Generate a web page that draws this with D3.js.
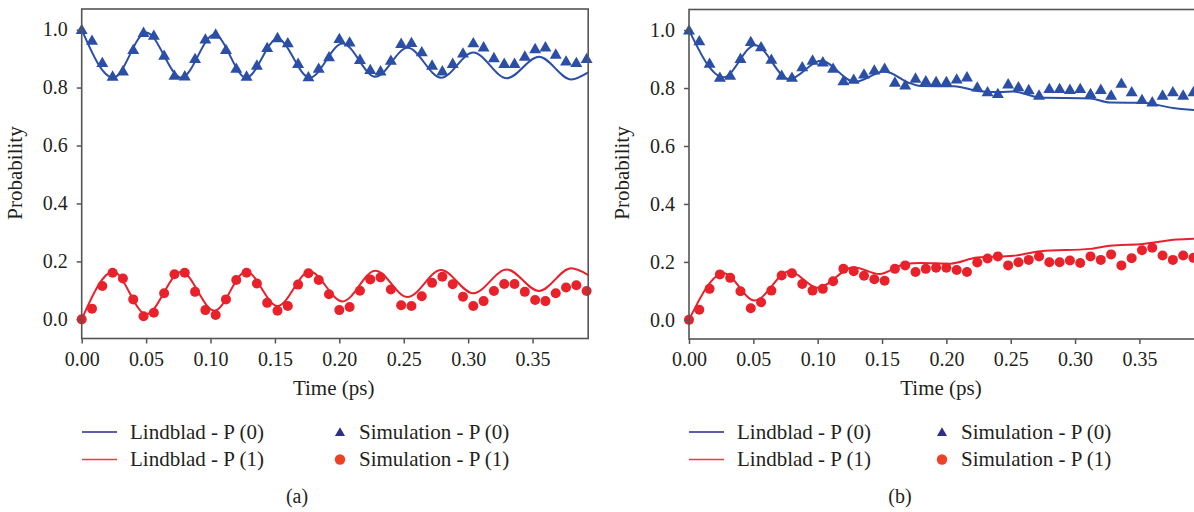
<!DOCTYPE html>
<html>
<head>
<meta charset="utf-8">
<script src="https://cdn.jsdelivr.net/npm/d3@7"></script>
<style>
  body { margin: 0; background: white; }
  svg { display: block; }
</style>
</head>
<body>
<div id="chart"></div>
<script>

// sampled simulation times (ps)
var sim_time = [0.000, 0.008, 0.016, 0.024, 0.032, 0.040, 0.048, 0.056, 0.064, 0.072,
  0.080, 0.088, 0.096, 0.104, 0.112, 0.120, 0.128, 0.136, 0.144, 0.152,
  0.160, 0.168, 0.176, 0.184, 0.192, 0.200, 0.208, 0.216, 0.224, 0.232,
  0.240, 0.248, 0.256, 0.264, 0.272, 0.280, 0.288, 0.296, 0.304, 0.312,
  0.320, 0.328, 0.336, 0.344, 0.352, 0.360, 0.368, 0.376, 0.384, 0.392];

// panel (a) simulation
var sim_a_p0 = [1.0, 0.963, 0.886, 0.839, 0.857, 0.931, 0.99, 0.98, 0.911, 0.842,
  0.84, 0.9, 0.967, 0.984, 0.931, 0.866, 0.839, 0.877, 0.938, 0.972,
  0.954, 0.883, 0.837, 0.866, 0.906, 0.969, 0.957, 0.897, 0.862, 0.857,
  0.894, 0.952, 0.955, 0.923, 0.877, 0.857, 0.883, 0.919, 0.954, 0.94,
  0.903, 0.883, 0.883, 0.908, 0.934, 0.94, 0.915, 0.891, 0.886, 0.9];
var sim_a_p1 = [0.0, 0.037, 0.115, 0.161, 0.141, 0.069, 0.011, 0.023, 0.09, 0.156,
  0.161, 0.095, 0.032, 0.015, 0.069, 0.136, 0.161, 0.124, 0.057, 0.03,
  0.046, 0.12, 0.159, 0.136, 0.087, 0.032, 0.043, 0.099, 0.138, 0.145,
  0.103, 0.049, 0.046, 0.08, 0.126, 0.147, 0.121, 0.078, 0.046, 0.063,
  0.098, 0.122, 0.122, 0.095, 0.067, 0.063, 0.09, 0.11, 0.118, 0.098];

// panel (b) simulation
var sim_b_p0 = [1.0, 0.963, 0.885, 0.837, 0.844, 0.902, 0.96, 0.942, 0.899, 0.844,
  0.837, 0.873, 0.896, 0.89, 0.868, 0.825, 0.83, 0.848, 0.862, 0.868,
  0.82, 0.81, 0.834, 0.825, 0.822, 0.822, 0.831, 0.838, 0.803, 0.787,
  0.781, 0.814, 0.804, 0.794, 0.775, 0.798, 0.798, 0.795, 0.798, 0.781,
  0.795, 0.775, 0.816, 0.787, 0.76, 0.752, 0.775, 0.787, 0.775, 0.787];
var sim_b_p1 = [0.0, 0.035, 0.107, 0.157, 0.145, 0.099, 0.04, 0.061, 0.101, 0.153,
  0.161, 0.124, 0.101, 0.107, 0.133, 0.176, 0.168, 0.152, 0.14, 0.135,
  0.176, 0.188, 0.165, 0.176, 0.18, 0.18, 0.172, 0.165, 0.198, 0.212,
  0.219, 0.188, 0.199, 0.207, 0.219, 0.199, 0.199, 0.205, 0.196, 0.219,
  0.207, 0.226, 0.188, 0.213, 0.24, 0.249, 0.222, 0.207, 0.222, 0.214];

// Lindblad curves, knots [time, probability]
var lind_a_p0 = [[0, 1.0], [0.0245, 0.834], [0.050, 0.99], [0.0774, 0.834], [0.103, 0.983],
  [0.1277, 0.834], [0.152, 0.968], [0.177, 0.834], [0.2025, 0.952], [0.228, 0.837],
  [0.253, 0.937], [0.279, 0.834], [0.304, 0.921], [0.330, 0.832], [0.355, 0.906],
  [0.380, 0.828], [0.3932, 0.852]];
var lind_a_p1 = [[0, 0.0], [0.0245, 0.164], [0.050, 0.018], [0.0774, 0.164], [0.103, 0.03],
  [0.1277, 0.165], [0.152, 0.046], [0.177, 0.165], [0.2025, 0.062], [0.228, 0.168],
  [0.253, 0.077], [0.279, 0.17], [0.304, 0.09], [0.330, 0.172], [0.355, 0.098],
  [0.380, 0.176], [0.3932, 0.153]];
var lind_b_p0 = [[0, 1.0], [0.0267, 0.837], [0.0513, 0.948], [0.0778, 0.831], [0.1026, 0.894],
  [0.129, 0.821], [0.152, 0.857], [0.172, 0.816], [0.18, 0.807], [0.206, 0.806],
  [0.226, 0.789], [0.242, 0.786], [0.252, 0.788], [0.273, 0.767], [0.312, 0.764],
  [0.327, 0.75], [0.353, 0.749], [0.376, 0.731], [0.3932, 0.724]];
var lind_b_p1 = [[0, 0.0], [0.027, 0.161], [0.051, 0.067], [0.078, 0.168], [0.1, 0.111],
  [0.128, 0.182], [0.148, 0.158], [0.168, 0.193], [0.18, 0.196], [0.203, 0.194],
  [0.224, 0.215], [0.244, 0.219], [0.252, 0.221], [0.273, 0.237], [0.312, 0.245],
  [0.327, 0.256], [0.353, 0.262], [0.379, 0.277], [0.3932, 0.28]];

var x_ticks = [0, 0.05, 0.10, 0.15, 0.20, 0.25, 0.30, 0.35];
var y_ticks = [0, 0.2, 0.4, 0.6, 0.8, 1.0];
var legend_labels = ['Lindblad - P (0)', 'Lindblad - P (1)', 'Simulation - P (0)', 'Simulation - P (1)'];

var blue = '#2b4ea6';
var red = '#e8212b';
var axis_color = '#555';
var text_color = '#231f20';
var font = '"Liberation Serif", "Times New Roman", serif';

var svg = d3.select('#chart')
  .append('svg')
  .attr('width', 1194)
  .attr('height', 512);

svg.append('rect')
  .attr('width', 1194)
  .attr('height', 512)
  .attr('fill', 'white');

function draw_panel(cfg){

  var x = d3.scaleLinear().domain([0, 0.3932]).range([cfg.left, cfg.left + cfg.width]);
  var y = d3.scaleLinear().domain([-0.066, 1.071]).range([cfg.top + cfg.height, cfg.top]);

  var g = svg.append('g').classed('panel', true);

  // curves
  var line = d3.line()
    .x(function(d){ return x(d[0]); })
    .y(function(d){ return y(d[1]); })
    .curve(d3.curveMonotoneX);

  [[cfg.lind_p0, blue], [cfg.lind_p1, red]].forEach(function(s){
    g.append('path')
      .datum(s[0])
      .attr('d', line)
      .attr('fill', 'none')
      .attr('stroke', s[1])
      .attr('stroke-width', 2);
  });

  // simulation markers
  var tri = d3.symbol().type(d3.symbolTriangle).size(62);

  g.selectAll('.tri')
    .data(cfg.sim_p0)
    .enter()
    .append('path')
    .classed('tri', true)
    .attr('d', tri)
    .attr('transform', function(d, i){
      return 'translate(' + x(sim_time[i]) + ',' + (y(d) + 1) + ')';
    })
    .attr('fill', blue);

  g.selectAll('.dot')
    .data(cfg.sim_p1)
    .enter()
    .append('circle')
    .classed('dot', true)
    .attr('cx', function(d, i){ return x(sim_time[i]); })
    .attr('cy', function(d){ return y(d); })
    .attr('r', 5)
    .attr('fill', red);

  // frame
  g.append('rect')
    .attr('x', cfg.left)
    .attr('y', cfg.top)
    .attr('width', cfg.width)
    .attr('height', cfg.height)
    .attr('fill', 'none')
    .attr('stroke', axis_color)
    .attr('stroke-width', 1.6);

  // axes
  var x_axis = g.append('g')
    .attr('transform', 'translate(0,' + (cfg.top + cfg.height) + ')')
    .call(d3.axisBottom(x).tickValues(x_ticks).tickFormat(d3.format('.2f')).tickSize(5).tickPadding(8));

  var y_axis = g.append('g')
    .attr('transform', 'translate(' + cfg.left + ',0)')
    .call(d3.axisLeft(y).tickValues(y_ticks).tickFormat(d3.format('.1f')).tickSize(5).tickPadding(9));

  [x_axis, y_axis].forEach(function(a){
    a.select('.domain').remove();
    a.selectAll('line').attr('stroke', axis_color).attr('stroke-width', 1.5);
    a.selectAll('text')
      .style('font-family', font)
      .style('font-size', '20px')
      .attr('fill', text_color);
  });

  g.append('text')
    .text('Time (ps)')
    .attr('x', cfg.left + 252)
    .attr('y', 395)
    .attr('text-anchor', 'middle')
    .style('font-family', font)
    .style('font-size', '21px')
    .attr('fill', text_color);

  g.append('text')
    .text('Probability')
    .attr('transform', 'translate(' + (cfg.left - 60) + ',' + 173 + ') rotate(-90)')
    .attr('text-anchor', 'middle')
    .style('font-family', font)
    .style('font-size', '21px')
    .attr('fill', text_color);

  // legend
  var leg = g.append('g')
    .attr('transform', 'translate(' + cfg.leg_x + ',0)');
  var rows = [432, 459.5];

  leg.selectAll('.leg_line')
    .data(['#2a2a8c', '#ee3f2a'])
    .enter()
    .append('line')
    .attr('x1', 0)
    .attr('x2', 35)
    .attr('y1', function(d, i){ return rows[i]; })
    .attr('y2', function(d, i){ return rows[i]; })
    .attr('stroke', function(d){ return d; })
    .attr('stroke-width', 1.3);

  leg.append('path')
    .attr('d', d3.symbol().type(d3.symbolTriangle).size(44))
    .attr('transform', 'translate(' + cfg.mark_dx + ',' + (rows[0] + 1) + ')')
    .attr('fill', '#2e2e8c');

  leg.append('circle')
    .attr('cx', cfg.mark_dx)
    .attr('cy', rows[1])
    .attr('r', 5.2)
    .attr('fill', '#ee4125');

  leg.selectAll('.leg_text')
    .data(legend_labels)
    .enter()
    .append('text')
    .text(function(d){ return d; })
    .attr('x', function(d, i){ return i < 2 ? cfg.text_dx : cfg.mark_dx + 19; })
    .attr('y', function(d, i){ return rows[i % 2] + 6.5; })
    .style('font-family', font)
    .style('font-size', '21px')
    .attr('fill', text_color);

  g.append('text')
    .text(cfg.tag)
    .attr('x', cfg.tag_x)
    .attr('y', 503)
    .attr('text-anchor', 'middle')
    .style('font-family', font)
    .style('font-size', '20px')
    .attr('fill', text_color);
}

draw_panel({
  left: 81.7, top: 9, width: 506.5, height: 329.5,
  sim_p0: sim_a_p0, sim_p1: sim_a_p1, lind_p0: lind_a_p0, lind_p1: lind_a_p1,
  leg_x: 82, text_dx: 48, mark_dx: 258, tag: '(a)', tag_x: 297
});

draw_panel({
  left: 689, top: 9.5, width: 506, height: 329.5,
  sim_p0: sim_b_p0, sim_p1: sim_b_p1, lind_p0: lind_b_p0, lind_p1: lind_b_p1,
  leg_x: 689, text_dx: 48, mark_dx: 253, tag: '(b)', tag_x: 900
});

</script>
</body>
</html>
